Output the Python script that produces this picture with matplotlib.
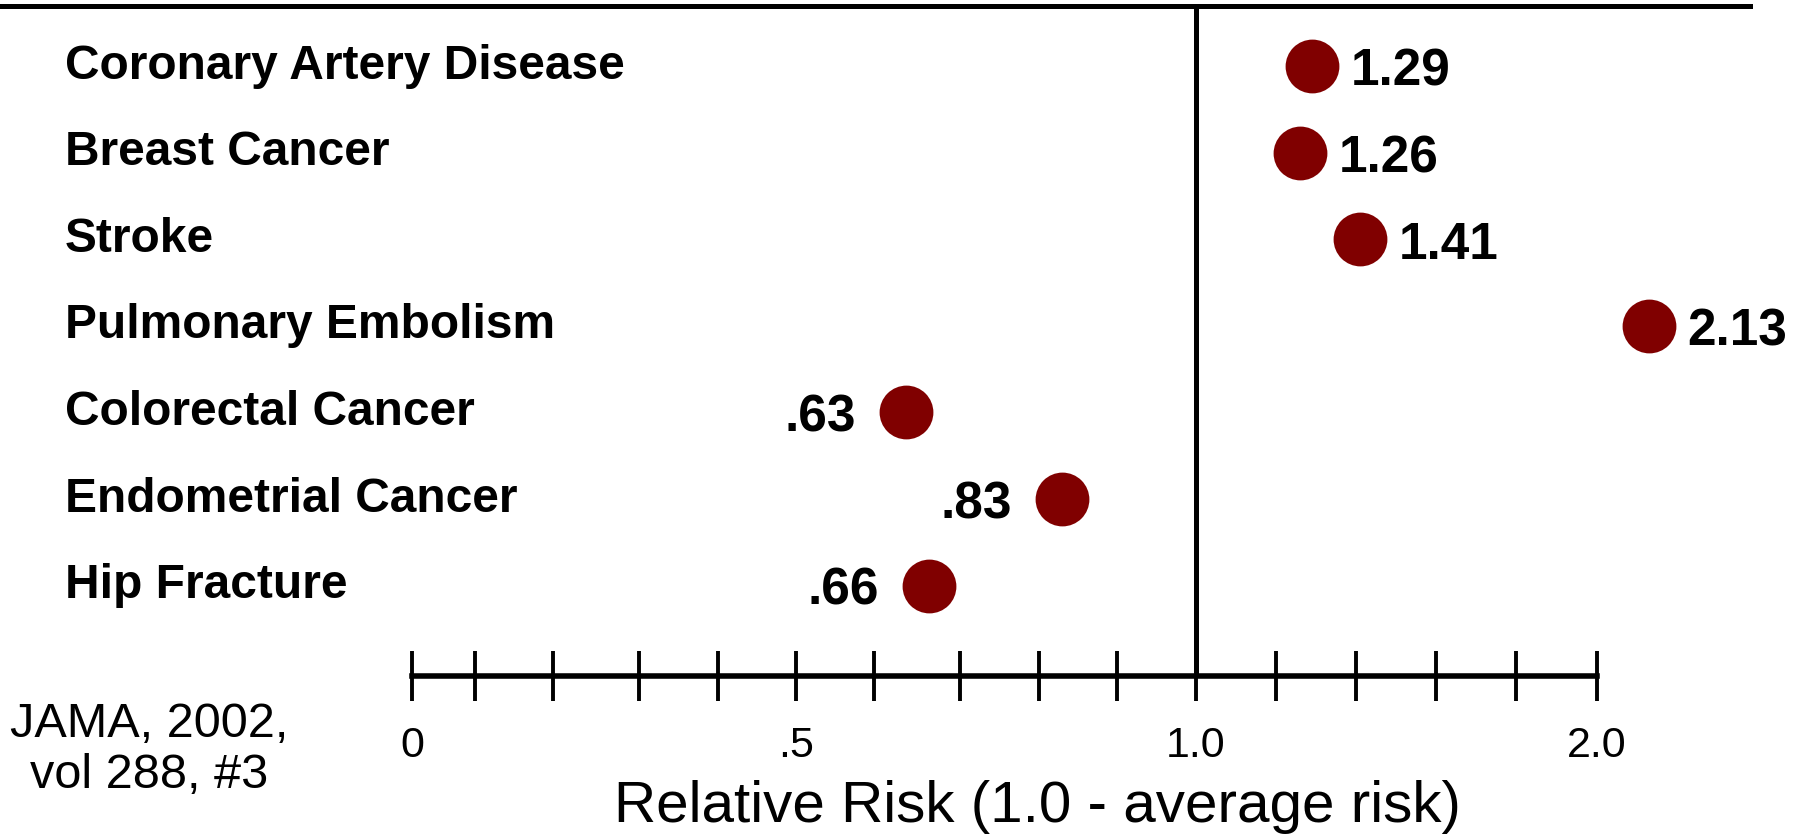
import numpy as np
import matplotlib
matplotlib.use("Agg")
import matplotlib.pyplot as plt
import matplotlib.transforms as mtransforms
from matplotlib.lines import Line2D

plt.rcParams['font.family'] = ['Liberation Sans', 'DejaVu Sans']

# ----------------------------
# data
# ----------------------------
outcomes = [
    "Coronary Artery Disease", "Breast Cancer", "Stroke",
    "Pulmonary Embolism", "Colorectal Cancer", "Endometrial Cancer",
    "Hip Fracture",
]
relative_risk = [1.29, 1.26, 1.41, 2.13, 0.63, 0.83, 0.66]
risk_labels = ["1.29", "1.26", "1.41", "2.13", ".63", ".83", ".66"]

tick_values = [0, .08, .18, .29, .39, .49, .59, .70, .80, .90, 1.0,
               1.2, 1.4, 1.6, 1.8, 2.0]
tick_text = {0: "0", .49: ".5", 1.0: "1.0", 2.0: "2.0"}

# the drawn axis squeezes everything above 1.0 to about half
RIGHT_FACTOR = 350 / 684


def fwd(v):
    v = np.asarray(v, dtype=float)
    return np.where(v <= 1, v, 1 + (v - 1) * RIGHT_FACTOR)


def inv(u):
    u = np.asarray(u, dtype=float)
    return np.where(u <= 1, u, 1 + (u - 1) / RIGHT_FACTOR)


W, H = 1796, 836
fig = plt.figure(figsize=(W / 100, H / 100), dpi=100)
ax = fig.add_axes([412 / W, (H - 676) / H, 1184.5 / W, 670 / H])

ax.set_xscale('function', functions=(fwd, inv))
ax.set_xlim(0, 2.0)
rows = np.arange(len(outcomes))
ax.set_ylim(7.046, -0.699)

# points
ax.scatter(relative_risk, rows, s=1500, color="#800000", zorder=3,
           clip_on=False, linewidths=0)

for v, r, lab in zip(relative_risk, rows, risk_labels):
    if v > 1:
        ax.annotate(lab, (v, r), xytext=(28, -4), textcoords='offset points',
                    ha='left', va='center', fontsize=37, fontweight='bold',
                    annotation_clip=False)
    else:
        ax.annotate(lab, (v, r), xytext=(-36, -4), textcoords='offset points',
                    ha='right', va='center', fontsize=37, fontweight='bold',
                    annotation_clip=False)

# category names at the left edge
trans = mtransforms.blended_transform_factory(fig.transFigure, ax.transData)
for r, name in zip(rows, outcomes):
    ax.text(65 / W, r, name, transform=trans, ha='left', va='center',
            fontsize=34.5, fontweight='bold', clip_on=False)

# reference line at 1.0
ax.axvline(1.0, color='black', lw=3.6, zorder=2)

# axis styling
for s in ['top', 'right', 'left']:
    ax.spines[s].set_visible(False)
ax.spines['bottom'].set_linewidth(4)
ax.set_yticks([])
ax.set_xticks(tick_values)
ax.set_xticklabels([tick_text.get(t, "") for t in tick_values])
ax.tick_params(axis='x', direction='inout', length=36, width=2.8,
               labelsize=31, pad=18)
ax.xaxis.set_minor_locator(matplotlib.ticker.NullLocator())
ax.patch.set_alpha(0)

# top rule
fig.add_artist(Line2D([0, 1750 / W], [1 - 6 / H, 1 - 6 / H],
                      transform=fig.transFigure, color='black', lw=3.6))

fig.text(1037 / W, 1 - 807 / H, "Relative Risk (1.0 - average risk)",
         ha='center', va='center', fontsize=42)
fig.text(149 / W, 1 - 750 / H, "JAMA, 2002,\nvol 288, #3",
         ha='center', va='center', fontsize=35, linespacing=1.15)

fig.savefig("out.png", dpi=100)
